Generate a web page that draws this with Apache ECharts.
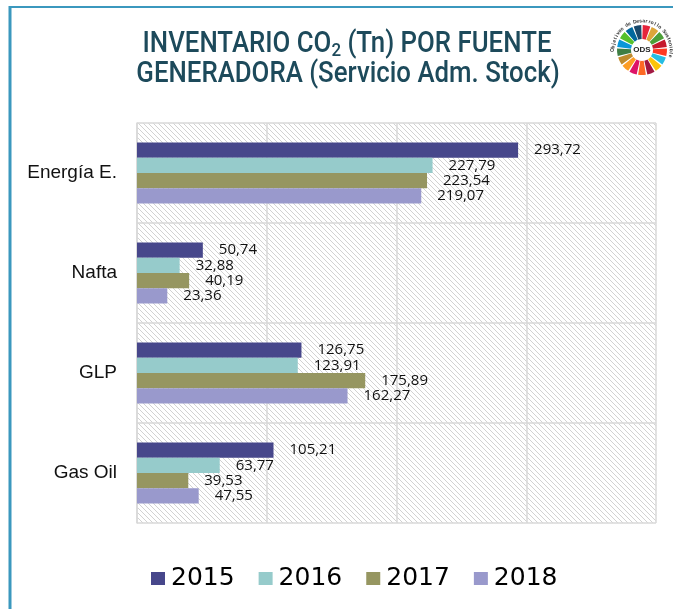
<!DOCTYPE html>
<html>
<head>
<meta charset="utf-8">
<script src="https://cdn.jsdelivr.net/npm/echarts@6/dist/echarts.min.js"></script>
<style>
html, body { margin: 0; padding: 0; background: #fff; }
#chart { width: 673px; height: 609px; }
</style>
</head>
<body>
<div id="chart"></div>
<script>
// datos del inventario
const fuentes = ['Energía E.', 'Nafta', 'GLP', 'Gas Oil'];
const anios = ['2015', '2016', '2017', '2018'];
const v2015 = [293.72, 50.74, 126.75, 105.21];
const v2016 = [227.79, 32.88, 123.91, 63.77];
const v2017 = [223.54, 40.19, 175.89, 39.53];
const v2018 = [219.07, 23.36, 162.27, 47.55];
const valores = [v2015, v2016, v2017, v2018];
const colores = ['#47478b', '#96cbcb', '#969661', '#9999cc'];

// trama diagonal del area de trazado (puntos en diagonal)
function hatch() {
  const c = document.createElement('canvas');
  c.width = 5; c.height = 5;
  const ctx = c.getContext('2d');
  ctx.fillStyle = '#d2d2d2';
  for (let i = 0; i < 5; i++) ctx.fillRect(i, i, 1, 1);
  return c;
}

// logo ODS
const odsColors = ['#e5243b', '#dda63a', '#4c9f38', '#c5192d', '#ff3a21', '#26bde2', '#fcc30b', '#a21942',
  '#fd6925', '#dd1367', '#fd9d24', '#bf8b2e', '#3f7e44', '#0a97d9', '#56c02b', '#00689d', '#19486a'];
const logo = [];
const cx = 642, cy = 50;
odsColors.forEach((col, i) => {
  const a0 = -Math.PI / 2 + i * 2 * Math.PI / 17;
  logo.push({
    type: 'sector',
    shape: { cx: cx, cy: cy, r: 25, r0: 11, startAngle: a0 + 0.03, endAngle: a0 + 2 * Math.PI / 17 - 0.03 },
    style: { fill: col }
  });
});
logo.push({
  type: 'text', x: cx, y: cy,
  style: { text: 'ODS', fill: '#222', font: 'bold 8px "Liberation Sans"', align: 'center', verticalAlign: 'middle' }
});
const arcText = 'Objetivos de Desarrollo Sostenible';
for (let i = 0; i < arcText.length; i++) {
  const ang = Math.PI * (1.0 + i * 1.1 / arcText.length);
  logo.push({
    type: 'text',
    x: cx + 29 * Math.cos(ang), y: cy + 29 * Math.sin(ang),
    rotation: -(ang + Math.PI / 2),
    style: { text: arcText[i], fill: '#333', font: 'bold 5px "Liberation Sans"', align: 'center', verticalAlign: 'middle' }
  });
}

const titleFont = '"Roboto", "Liberation Sans", sans-serif';

const chart = echarts.init(document.getElementById('chart'));

const option = {
  backgroundColor: '#fff',
  animation: false,
  legend: {
    data: anios,
    bottom: 13,
    left: 146,
    icon: 'rect',
    itemWidth: 14,
    itemHeight: 13,
    itemGap: 24,
    textStyle: { fontFamily: '"DejaVu Sans"', fontSize: 25, color: '#000', padding: [0, 0, 0, 1] }
  },
  grid: {
    left: 137, right: 17, top: 123, bottom: 86,
    show: true,
    borderWidth: 0,
    backgroundColor: { image: hatch(), repeat: 'repeat' }
  },
  xAxis: {
    type: 'value',
    min: 0, max: 400, interval: 100,
    axisLabel: { show: false },
    axisLine: { show: false },
    axisTick: { show: false },
    splitLine: { lineStyle: { color: '#d9d9d9', width: 1.5 } }
  },
  yAxis: {
    type: 'category',
    data: fuentes,
    inverse: true,
    axisLine: { lineStyle: { color: '#d9d9d9', width: 1.5 } },
    axisTick: { length: 6, lineStyle: { color: '#d9d9d9', width: 1.5 } },
    axisLabel: { color: '#111', fontFamily: '"Liberation Sans"', fontSize: 19, margin: 20 },
    splitLine: { show: true, lineStyle: { color: '#d9d9d9', width: 1.5 } }
  },
  series: anios.map((a, i) => ({
    name: a,
    type: 'bar',
    data: valores[i],
    barGap: 0,
    barCategoryGap: '39%',
    itemStyle: { color: colores[i] },
    label: {
      show: true,
      position: 'right',
      distance: 16,
      color: '#111',
      fontFamily: '"Open Sans"',
      fontSize: 15,
      formatter: p => p.value.toFixed(2).replace('.', ',')
    }
  })),
  graphic: [
    { type: 'line', shape: { x1: 10, y1: 6, x2: 10, y2: 609 }, style: { stroke: '#3b98be', lineWidth: 3 } },
    { type: 'line', shape: { x1: 9, y1: 7, x2: 673, y2: 7 }, style: { stroke: '#3b98be', lineWidth: 2 } },
    {
      type: 'text', x: 347, y: 45, scaleX: 0.89,
      style: {
        text: 'INVENTARIO CO{sub|2} (Tn) POR FUENTE', fill: '#1d4a5b',
        font: '500 29px ' + titleFont, align: 'center', verticalAlign: 'middle',
        rich: { sub: { fill: '#1d4a5b', font: '500 19px ' + titleFont, padding: [12, 0, 0, 0] } }
      }
    },
    {
      type: 'text', x: 348, y: 75, scaleX: 0.89,
      style: {
        text: 'GENERADORA (Servicio Adm. Stock)', fill: '#1d4a5b',
        font: '500 29px ' + titleFont, align: 'center', verticalAlign: 'middle'
      }
    }
  ].concat(logo)
};

chart.setOption(option);
</script>
</body>
</html>
